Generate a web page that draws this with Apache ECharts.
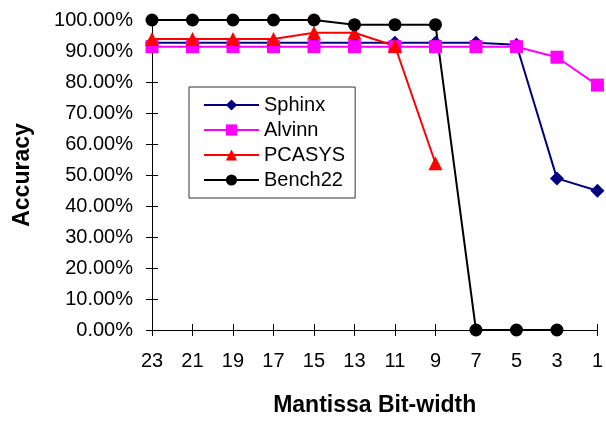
<!DOCTYPE html>
<html>
<head>
<meta charset="utf-8">
<script src="https://cdn.jsdelivr.net/npm/echarts@6/dist/echarts.min.js"></script>
<style>
  html, body { margin: 0; padding: 0; background: #fff; }
  #chart { width: 606px; height: 422px; }
</style>
</head>
<body>
<div id="chart"></div>
<script>
// bit-width categories, left to right
var bitWidths = ['23', '21', '19', '17', '15', '13', '11', '9', '7', '5', '3', '1'];
// accuracy in percent
var sphinx   = [92.7, 92.7, 92.7, 92.7, 92.7, 92.7, 92.7, 92.7, 92.7, 92.0, 48.9, 44.9];
var alvinn   = [91.4, 91.4, 91.4, 91.4, 91.4, 91.4, 91.4, 91.4, 91.4, 91.4, 88.0, 79.0];
var pcasys   = [93.9, 93.9, 93.9, 93.9, 95.9, 95.9, 91.6, 53.8, null, null, null, null];
var bench22  = [100, 100, 100, 100, 100, 98.5, 98.5, 98.5, 0, 0, 0, null];

var chart = echarts.init(document.getElementById('chart'));
var font = 'Liberation Sans, Arial, sans-serif';

function line(name, data, color, symbol, size, width) {
    return {
        name: name,
        type: 'line',
        data: data,
        symbol: symbol,
        symbolSize: size,
        connectNulls: false,
        lineStyle: { color: color, width: width },
        itemStyle: { color: color },
        emphasis: { disabled: true }
    };
}

var option = {
    animation: false,
    backgroundColor: '#fff',
    grid: { left: 152, right: 6, top: 20, bottom: 88 },
    legend: {
        orient: 'vertical',
        left: 189,
        top: 87,
        padding: [8, 10, 8, 14],
        itemGap: 5,
        itemWidth: 55,
        itemHeight: 14,
        borderColor: '#333',
        borderWidth: 1,
        textStyle: { fontFamily: font, fontSize: 20, color: '#000' },
        data: ['Sphinx', 'Alvinn', 'PCASYS', 'Bench22']
    },
    xAxis: [{
        type: 'category',
        data: bitWidths,
        boundaryGap: false,
        name: 'Mantissa Bit-width',
        nameLocation: 'middle',
        nameGap: 64,
        nameTextStyle: { fontFamily: font, fontSize: 23, fontWeight: 'bold', color: '#000' },
        axisLine: { lineStyle: { color: '#000', width: 1 } },
        axisTick: { show: true, length: 6, lineStyle: { color: '#000' } },
        axisLabel: { fontFamily: font, fontSize: 20, color: '#000', margin: 21 },
        splitLine: { show: false }
    }, {
        type: 'category',
        data: bitWidths,
        boundaryGap: false,
        position: 'bottom',
        axisLine: { show: false },
        axisTick: { show: true, inside: true, length: 6, lineStyle: { color: '#000' } },
        axisLabel: { show: false },
        splitLine: { show: false }
    }],
    yAxis: [{
        type: 'value',
        min: 0,
        max: 100,
        interval: 10,
        name: 'Accuracy',
        nameLocation: 'middle',
        nameGap: 118,
        nameTextStyle: { fontFamily: font, fontSize: 23, fontWeight: 'bold', color: '#000' },
        axisLine: { show: true, lineStyle: { color: '#000', width: 1 } },
        axisTick: { show: true, length: 6, lineStyle: { color: '#000' } },
        axisLabel: {
            fontFamily: font, fontSize: 20, color: '#000', margin: 19,
            formatter: function (v) { return v.toFixed(2) + '%'; }
        },
        splitLine: { show: false }
    }, {
        type: 'value',
        min: 0,
        max: 100,
        interval: 10,
        position: 'left',
        axisLine: { show: false },
        axisTick: { show: true, inside: true, length: 6, lineStyle: { color: '#000' } },
        axisLabel: { show: false },
        splitLine: { show: false }
    }],
    series: [
        line('Sphinx', sphinx, '#000080', 'diamond', 14, 2),
        line('Alvinn', alvinn, '#FF00FF', 'rect', 13, 2),
        line('PCASYS', pcasys, '#FF0000', 'triangle', 14, 2),
        line('Bench22', bench22, '#000000', 'circle', 13, 2)
    ]
};

chart.setOption(option);
</script>
</body>
</html>
